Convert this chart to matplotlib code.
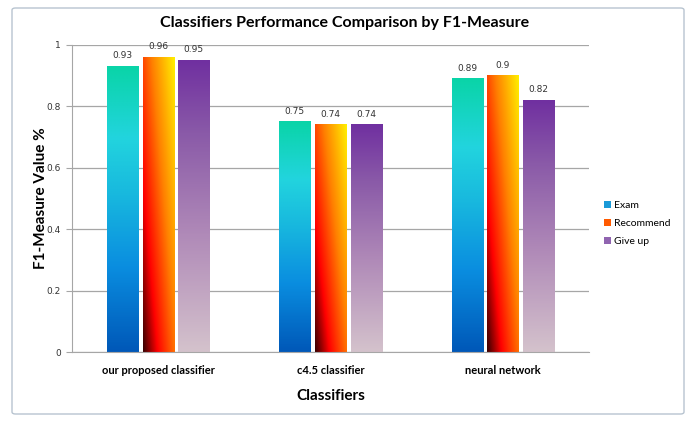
import numpy as np
import matplotlib
matplotlib.use("Agg")
import matplotlib.pyplot as plt
from matplotlib.colors import LinearSegmentedColormap
from matplotlib.patches import Patch, FancyBboxPatch

# data
classifiers = ["our proposed classifier", "c4.5 classifier", "neural network"]
series = ["Exam", "Recommend", "Give up"]
exam = [0.93, 0.75, 0.89]
recommend = [0.96, 0.74, 0.90]
give_up = [0.95, 0.74, 0.82]
yticks = [0, 0.2, 0.4, 0.6, 0.8, 1]

plt.rcParams['font.family'] = ['Lato', 'DejaVu Sans']

# gradients (t=0 bottom, t=1 top)
cm_exam = LinearSegmentedColormap.from_list("exam", [
    (0.0, "#0058b8"), (0.3, "#0a8ee0"), (0.55, "#18b8de"),
    (0.75, "#22d4de"), (1.0, "#0ad4a8")])
cm_rec = LinearSegmentedColormap.from_list("rec", [
    (0.0, "#3a0000"), (0.25, "#ff0000"), (0.6, "#ff8000"), (1.0, "#ffee00")])
cm_give = LinearSegmentedColormap.from_list("give", [
    (0.0, "#d4c2cc"), (0.4, "#b08ab8"), (0.75, "#8a5aa8"), (1.0, "#7030a0")])

fig = plt.figure(figsize=(6.97, 4.22), dpi=100)
fig.patches.append(FancyBboxPatch((12 / 697, 8 / 422), 672 / 697, 406 / 422,
                                  boxstyle="round,pad=0,rounding_size=0.005",
                                  transform=fig.transFigure, fc="none",
                                  ec="#b8c4d0", lw=1.0, zorder=-1))

ax = fig.add_axes([72 / 697, 70 / 422, 517 / 697, 307 / 422])
ax.set_facecolor("none")

x = np.arange(len(classifiers))
w = 0.18
step = 0.207

ny, nx = 200, 40
vv = np.linspace(0, 1, ny)[:, None]
uu = np.linspace(0, 1, nx)[None, :]
grad_v = np.repeat(vv, nx, axis=1)
grad_rec = np.clip(0.55 * uu + 0.45 * vv, 0, 1)

for i, (vals, cm, img) in enumerate([(exam, cm_exam, grad_v),
                                     (recommend, cm_rec, grad_rec),
                                     (give_up, cm_give, grad_v)]):
    xs = x + (i - 1) * step
    bars = ax.bar(xs, vals, w, color="none", edgecolor="none")
    for b, v in zip(bars, vals):
        x0 = b.get_x()
        ax.imshow(img, cmap=cm, vmin=0, vmax=1, origin="lower", aspect="auto",
                  extent=(x0, x0 + w, 0, v), zorder=2, interpolation="bilinear")
        ax.text(x0 + w / 2, v + 0.02, "%g" % v, ha="center", va="bottom",
                fontsize=6.5, color="#333333", family="DejaVu Sans")

ax.set_xlim(-0.5, 2.5)
ax.set_ylim(0, 1)
ax.set_yticks(yticks)
ax.set_yticklabels(["%g" % t for t in yticks], fontsize=6.5, family="DejaVu Sans",
                   color="#333333")
ax.set_xticks(x)
ax.set_xticklabels(classifiers, fontsize=8, fontweight="bold")
ax.tick_params(axis="x", length=0, pad=9)
ax.tick_params(axis="y", length=4, pad=4, color="#a6a6a6")
ax.yaxis.grid(True, color="#a6a6a6", lw=0.9)
ax.set_axisbelow(True)
for s in ["top", "right"]:
    ax.spines[s].set_visible(False)
ax.spines["left"].set_color("#a6a6a6")
ax.spines["bottom"].set_color("#a6a6a6")

ax.set_ylabel("F1-Measure Value %", fontsize=11, fontweight="bold", labelpad=-1)
ax.set_xlabel("Classifiers", fontsize=11, fontweight="bold", labelpad=10)
fig.text(0.495, 0.945, "Classifiers Performance Comparison by F1-Measure",
         ha="center", va="center", fontsize=11.5, fontweight="bold")

handles = [Patch(fc="#1a9ad8"), Patch(fc="#ff5a00"), Patch(fc="#9064b0")]
fig.legend(handles, series, loc="center left", bbox_to_anchor=(595 / 697, 0.47),
           frameon=False, fontsize=7.5, handlelength=0.6, handleheight=0.6,
           handletextpad=0.3, labelspacing=0.85)

fig.savefig("out.png", dpi=100)
